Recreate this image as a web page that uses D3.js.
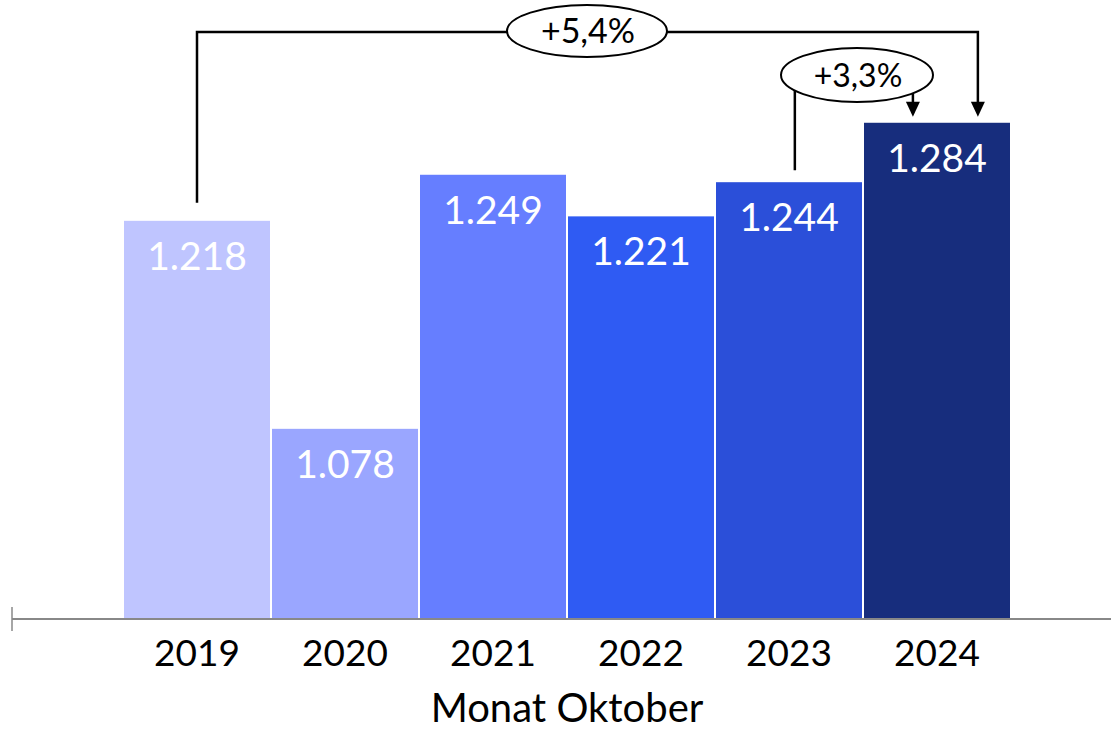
<!DOCTYPE html>
<html>
<head>
<meta charset="utf-8">
<script src="https://cdn.jsdelivr.net/npm/d3@7"></script>
<style>
  html, body { margin: 0; padding: 0; background: #fff; }
  svg { display: block; font-family: Lato, 'Noto Sans', sans-serif; }
</style>
</head>
<body>
<div id="chart"></div>
<script>
//
//    Chart data
//
const years = ['2019', '2020', '2021', '2022', '2023', '2024']
const values = [1.218, 1.078, 1.249, 1.221, 1.244, 1.284]
const valueLabels = ['1.218', '1.078', '1.249', '1.221', '1.244', '1.284']
const barColours = ['#bfc5ff', '#9aa6ff', '#667eff', '#2f5bf3', '#2b4fd9', '#172d7d']
const axisTitle = 'Monat Oktober'
// growth brackets: from year, to year, label
const changes = [
  { from: '2019', to: '2024', label: '+5,4%' },
  { from: '2023', to: '2024', label: '+3,3%' }
]

const width = 1111
const height = 730

const svg = d3.select('#chart').append('svg')
  .attr('width', width)
  .attr('height', height)

const x = d3.scaleBand()
  .domain(years)
  .range([123, 1011])
  .paddingInner(2 / 148)
  .paddingOuter(1 / 148)

const y = d3.scaleLinear()
  .domain([0.95, 1.3])
  .range([619, 99])

//
// Bars
//
svg.append('g').selectAll('rect')
  .data(years)
  .enter()
  .append('rect')
    .attr('x', d => x(d))
    .attr('y', (d, i) => y(values[i]))
    .attr('width', x.bandwidth())
    .attr('height', (d, i) => y.range()[0] - y(values[i]))
    .attr('fill', (d, i) => barColours[i])

// value labels inside bars
svg.append('g').selectAll('text')
  .data(years)
  .enter()
  .append('text')
    .attr('x', d => x(d) + x.bandwidth() / 2)
    .attr('y', (d, i) => y(values[i]) + 49)
    .attr('text-anchor', 'middle')
    .attr('fill', '#fff')
    .style('font-size', '39px')
    .text((d, i) => valueLabels[i])

//
// Axis: gray line with a single tick on the left
//
const axis = d3.axisBottom(x).tickSize(0).tickPadding(14)
const axisG = svg.append('g')
  .attr('transform', `translate(0,${y.range()[0]})`)
  .call(axis)
axisG.select('.domain').remove()
axisG.selectAll('text')
  .attr('fill', '#000')
  .style('font-size', '37px')
  .style('font-family', 'Lato, sans-serif')
  .attr('dy', '0.9em')

svg.append('line')
  .attr('x1', 12).attr('x2', width)
  .attr('y1', y.range()[0]).attr('y2', y.range()[0])
  .attr('stroke', '#888').attr('stroke-width', 2)
svg.append('line')
  .attr('x1', 12).attr('x2', 12)
  .attr('y1', y.range()[0] - 12).attr('y2', y.range()[0] + 12)
  .attr('stroke', '#888').attr('stroke-width', 1.5)

svg.append('text')
  .attr('x', (x.range()[0] + x.range()[1]) / 2)
  .attr('y', 722)
  .attr('text-anchor', 'middle')
  .style('font-size', '40px')
  .text(axisTitle)

//
// Growth brackets with ellipse labels
//
const bracketLayout = [
  { startOffset: 0.5, endOffset: 0.78, lineY: 32, gap: 18, ellipse: { cx: 587, cy: 31, rx: 80, ry: 26 }, fontSize: 34 },
  { startOffset: 0.54, endOffset: 0.335, lineY: 75, gap: 12, ellipse: { cx: 857, cy: 75, rx: 76, ry: 27 }, fontSize: 32 }
]

changes.forEach((c, i) => {
  const layout = bracketLayout[i]
  const fromIdx = years.indexOf(c.from)
  const toIdx = years.indexOf(c.to)
  const x0 = x(c.from) + x.bandwidth() * layout.startOffset
  const x1 = x(c.to) + x.bandwidth() * layout.endOffset
  const y0 = y(values[fromIdx]) - layout.gap
  const tipY = y(values[toIdx]) - 6
  const g = svg.append('g')

  g.append('path')
    .attr('d', `M${x0},${y0}V${layout.lineY}H${x1}V${tipY - 14}`)
    .attr('fill', 'none')
    .attr('stroke', '#000')
    .attr('stroke-width', 2.5)
  g.append('path')
    .attr('d', `M${x1 - 7},${tipY - 15}L${x1 + 7},${tipY - 15}L${x1},${tipY}Z`)
    .attr('fill', '#000')

  g.append('ellipse')
    .attr('cx', layout.ellipse.cx)
    .attr('cy', layout.ellipse.cy)
    .attr('rx', layout.ellipse.rx)
    .attr('ry', layout.ellipse.ry)
    .attr('fill', '#fff')
    .attr('stroke', '#000')
    .attr('stroke-width', 2)
  g.append('text')
    .attr('x', layout.ellipse.cx + 1)
    .attr('y', layout.ellipse.cy)
    .attr('dy', '0.36em')
    .attr('text-anchor', 'middle')
    .style('font-size', layout.fontSize + 'px')
    .text(c.label)
})
</script>
</body>
</html>
